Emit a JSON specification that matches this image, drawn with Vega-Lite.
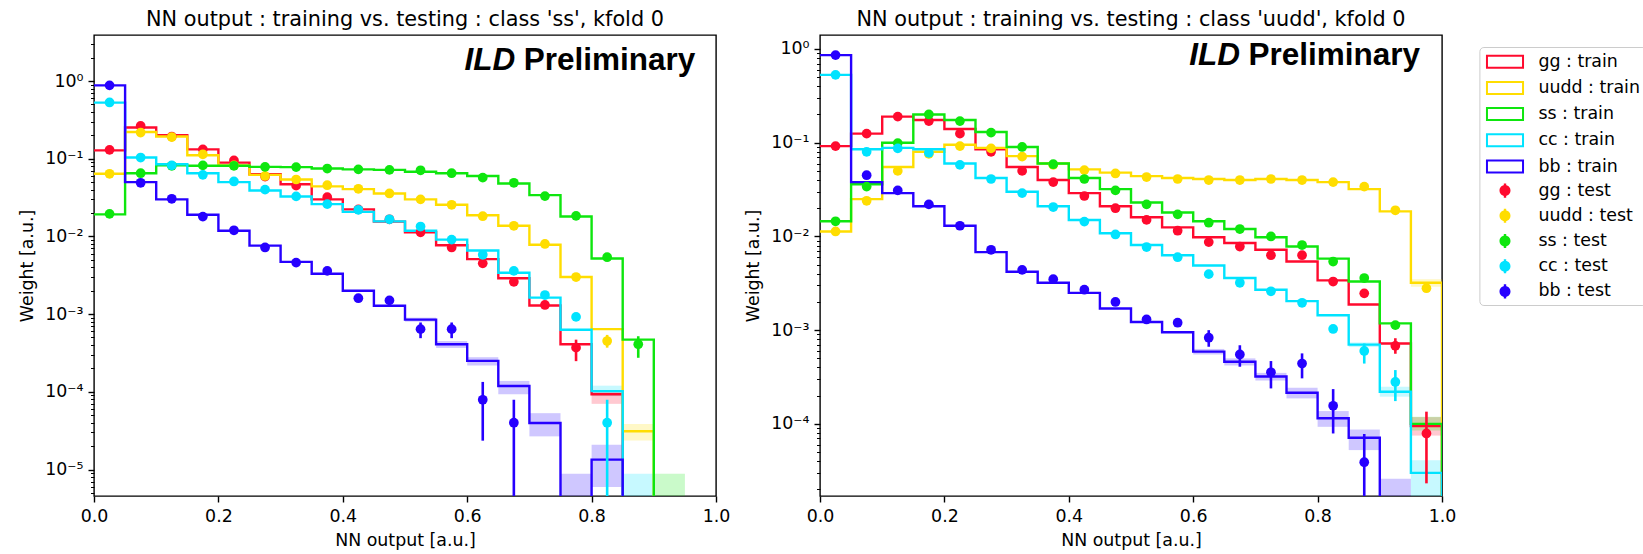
{
  "$schema": "https://vega.github.io/schema/vega-lite/v6.json",
  "background": "white",
  "padding": {"left": 18, "top": 8, "right": 2, "bottom": 2},
  "config": {
    "font": "DejaVu Sans",
    "view": {"stroke": "#000000", "strokeWidth": 1.4},
    "axis": {"grid": false, "domain": false, "tickColor": "#000000", "labelColor": "#000000", "titleColor": "#000000", "labelFontSize": 17.4, "titleFontSize": 17.4, "titleFontWeight": "normal", "tickWidth": 1.4, "labelFont": "DejaVu Sans", "titleFont": "DejaVu Sans"},
    "title": {"font": "DejaVu Sans", "fontSize": 20.8, "fontWeight": "normal", "color": "#000000", "offset": 4, "anchor": "middle"},
    "legend": {"labelFont": "DejaVu Sans", "labelFontSize": 17.4, "labelColor": "#000000", "symbolSize": 200, "labelOffset": 24.7, "symbolOffset": 10.9, "padding": 6, "cornerRadius": 4}
  },
  "datasets": {
    "train": [
      {"p":"ss","l":"gg : train","x":0,"w":0.128},{"p":"ss","l":"gg : train","x":0.05,"w":0.252},{"p":"ss","l":"gg : train","x":0.1,"w":0.2},{"p":"ss","l":"gg : train","x":0.15,"w":0.132},{"p":"ss","l":"gg : train","x":0.2,"w":0.089},{"p":"ss","l":"gg : train","x":0.25,"w":0.063},{"p":"ss","l":"gg : train","x":0.3,"w":0.047},{"p":"ss","l":"gg : train","x":0.35,"w":0.03},{"p":"ss","l":"gg : train","x":0.4,"w":0.0223},{"p":"ss","l":"gg : train","x":0.45,"w":0.0155},{"p":"ss","l":"gg : train","x":0.5,"w":0.0113},{"p":"ss","l":"gg : train","x":0.55,"w":0.0077},{"p":"ss","l":"gg : train","x":0.6,"w":0.0051},{"p":"ss","l":"gg : train","x":0.65,"w":0.0029},{"p":"ss","l":"gg : train","x":0.7,"w":0.00129},{"p":"ss","l":"gg : train","x":0.75,"w":0.00041},{"p":"ss","l":"gg : train","x":0.8,"w":0.000093},{"p":"ss","l":"gg : train","x":0.85,"w":1e-9},{"p":"ss","l":"gg : train","x":0.9,"w":1e-9},{"p":"ss","l":"gg : train","x":0.95,"w":1e-9},{"p":"ss","l":"gg : train","x":1,"w":1e-9},
      {"p":"ss","l":"uudd : train","x":0,"w":0.064},{"p":"ss","l":"uudd : train","x":0.05,"w":0.221},{"p":"ss","l":"uudd : train","x":0.1,"w":0.193},{"p":"ss","l":"uudd : train","x":0.15,"w":0.111},{"p":"ss","l":"uudd : train","x":0.2,"w":0.082},{"p":"ss","l":"uudd : train","x":0.25,"w":0.062},{"p":"ss","l":"uudd : train","x":0.3,"w":0.054},{"p":"ss","l":"uudd : train","x":0.35,"w":0.044},{"p":"ss","l":"uudd : train","x":0.4,"w":0.0406},{"p":"ss","l":"uudd : train","x":0.45,"w":0.0357},{"p":"ss","l":"uudd : train","x":0.5,"w":0.03},{"p":"ss","l":"uudd : train","x":0.55,"w":0.0255},{"p":"ss","l":"uudd : train","x":0.6,"w":0.0187},{"p":"ss","l":"uudd : train","x":0.65,"w":0.0137},{"p":"ss","l":"uudd : train","x":0.7,"w":0.0078},{"p":"ss","l":"uudd : train","x":0.75,"w":0.003},{"p":"ss","l":"uudd : train","x":0.8,"w":0.00064},{"p":"ss","l":"uudd : train","x":0.85,"w":0.000031},{"p":"ss","l":"uudd : train","x":0.9,"w":1e-9},{"p":"ss","l":"uudd : train","x":0.95,"w":1e-9},{"p":"ss","l":"uudd : train","x":1,"w":1e-9},
      {"p":"ss","l":"ss : train","x":0,"w":0.0192},{"p":"ss","l":"ss : train","x":0.05,"w":0.065},{"p":"ss","l":"ss : train","x":0.1,"w":0.082},{"p":"ss","l":"ss : train","x":0.15,"w":0.081},{"p":"ss","l":"ss : train","x":0.2,"w":0.081},{"p":"ss","l":"ss : train","x":0.25,"w":0.0785},{"p":"ss","l":"ss : train","x":0.3,"w":0.078},{"p":"ss","l":"ss : train","x":0.35,"w":0.0747},{"p":"ss","l":"ss : train","x":0.4,"w":0.073},{"p":"ss","l":"ss : train","x":0.45,"w":0.0718},{"p":"ss","l":"ss : train","x":0.5,"w":0.068},{"p":"ss","l":"ss : train","x":0.55,"w":0.065},{"p":"ss","l":"ss : train","x":0.6,"w":0.06},{"p":"ss","l":"ss : train","x":0.65,"w":0.048},{"p":"ss","l":"ss : train","x":0.7,"w":0.034},{"p":"ss","l":"ss : train","x":0.75,"w":0.018},{"p":"ss","l":"ss : train","x":0.8,"w":0.0052},{"p":"ss","l":"ss : train","x":0.85,"w":0.00047},{"p":"ss","l":"ss : train","x":0.9,"w":1e-9},{"p":"ss","l":"ss : train","x":0.95,"w":1e-9},{"p":"ss","l":"ss : train","x":1,"w":1e-9},
      {"p":"ss","l":"cc : train","x":0,"w":0.527},{"p":"ss","l":"cc : train","x":0.05,"w":0.1036},{"p":"ss","l":"cc : train","x":0.1,"w":0.085},{"p":"ss","l":"cc : train","x":0.15,"w":0.065},{"p":"ss","l":"cc : train","x":0.2,"w":0.05},{"p":"ss","l":"cc : train","x":0.25,"w":0.039},{"p":"ss","l":"cc : train","x":0.3,"w":0.0327},{"p":"ss","l":"cc : train","x":0.35,"w":0.026},{"p":"ss","l":"cc : train","x":0.4,"w":0.0207},{"p":"ss","l":"cc : train","x":0.45,"w":0.0156},{"p":"ss","l":"cc : train","x":0.5,"w":0.0118},{"p":"ss","l":"cc : train","x":0.55,"w":0.0091},{"p":"ss","l":"cc : train","x":0.6,"w":0.0066},{"p":"ss","l":"cc : train","x":0.65,"w":0.0034},{"p":"ss","l":"cc : train","x":0.7,"w":0.00163},{"p":"ss","l":"cc : train","x":0.75,"w":0.00063},{"p":"ss","l":"cc : train","x":0.8,"w":0.000102},{"p":"ss","l":"cc : train","x":0.85,"w":1e-9},{"p":"ss","l":"cc : train","x":0.9,"w":1e-9},{"p":"ss","l":"cc : train","x":0.95,"w":1e-9},{"p":"ss","l":"cc : train","x":1,"w":1e-9},
      {"p":"ss","l":"bb : train","x":0,"w":0.88},{"p":"ss","l":"bb : train","x":0.05,"w":0.05},{"p":"ss","l":"bb : train","x":0.1,"w":0.03},{"p":"ss","l":"bb : train","x":0.15,"w":0.019},{"p":"ss","l":"bb : train","x":0.2,"w":0.0118},{"p":"ss","l":"bb : train","x":0.25,"w":0.0076},{"p":"ss","l":"bb : train","x":0.3,"w":0.0047},{"p":"ss","l":"bb : train","x":0.35,"w":0.0033},{"p":"ss","l":"bb : train","x":0.4,"w":0.002},{"p":"ss","l":"bb : train","x":0.45,"w":0.00128},{"p":"ss","l":"bb : train","x":0.5,"w":0.00085},{"p":"ss","l":"bb : train","x":0.55,"w":0.00041},{"p":"ss","l":"bb : train","x":0.6,"w":0.00025},{"p":"ss","l":"bb : train","x":0.65,"w":0.000119},{"p":"ss","l":"bb : train","x":0.7,"w":0.0000396},{"p":"ss","l":"bb : train","x":0.75,"w":1e-9},{"p":"ss","l":"bb : train","x":0.8,"w":0.0000134},{"p":"ss","l":"bb : train","x":0.85,"w":1e-9},{"p":"ss","l":"bb : train","x":0.9,"w":1e-9},{"p":"ss","l":"bb : train","x":0.95,"w":1e-9},{"p":"ss","l":"bb : train","x":1,"w":1e-9},
      {"p":"uudd","l":"gg : train","x":0,"w":0.092},{"p":"uudd","l":"gg : train","x":0.05,"w":0.125},{"p":"uudd","l":"gg : train","x":0.1,"w":0.19},{"p":"uudd","l":"gg : train","x":0.15,"w":0.175},{"p":"uudd","l":"gg : train","x":0.2,"w":0.14},{"p":"uudd","l":"gg : train","x":0.25,"w":0.085},{"p":"uudd","l":"gg : train","x":0.3,"w":0.055},{"p":"uudd","l":"gg : train","x":0.35,"w":0.04},{"p":"uudd","l":"gg : train","x":0.4,"w":0.029},{"p":"uudd","l":"gg : train","x":0.45,"w":0.021},{"p":"uudd","l":"gg : train","x":0.5,"w":0.016},{"p":"uudd","l":"gg : train","x":0.55,"w":0.0125},{"p":"uudd","l":"gg : train","x":0.6,"w":0.0098},{"p":"uudd","l":"gg : train","x":0.65,"w":0.0085},{"p":"uudd","l":"gg : train","x":0.7,"w":0.0072},{"p":"uudd","l":"gg : train","x":0.75,"w":0.0054},{"p":"uudd","l":"gg : train","x":0.8,"w":0.0034},{"p":"uudd","l":"gg : train","x":0.85,"w":0.00188},{"p":"uudd","l":"gg : train","x":0.9,"w":0.00072},{"p":"uudd","l":"gg : train","x":0.95,"w":0.000095},{"p":"uudd","l":"gg : train","x":1,"w":1e-9},
      {"p":"uudd","l":"uudd : train","x":0,"w":0.0113},{"p":"uudd","l":"uudd : train","x":0.05,"w":0.025},{"p":"uudd","l":"uudd : train","x":0.1,"w":0.055},{"p":"uudd","l":"uudd : train","x":0.15,"w":0.08},{"p":"uudd","l":"uudd : train","x":0.2,"w":0.095},{"p":"uudd","l":"uudd : train","x":0.25,"w":0.088},{"p":"uudd","l":"uudd : train","x":0.3,"w":0.072},{"p":"uudd","l":"uudd : train","x":0.35,"w":0.06},{"p":"uudd","l":"uudd : train","x":0.4,"w":0.052},{"p":"uudd","l":"uudd : train","x":0.45,"w":0.048},{"p":"uudd","l":"uudd : train","x":0.5,"w":0.044},{"p":"uudd","l":"uudd : train","x":0.55,"w":0.042},{"p":"uudd","l":"uudd : train","x":0.6,"w":0.041},{"p":"uudd","l":"uudd : train","x":0.65,"w":0.04},{"p":"uudd","l":"uudd : train","x":0.7,"w":0.041},{"p":"uudd","l":"uudd : train","x":0.75,"w":0.04},{"p":"uudd","l":"uudd : train","x":0.8,"w":0.038},{"p":"uudd","l":"uudd : train","x":0.85,"w":0.032},{"p":"uudd","l":"uudd : train","x":0.9,"w":0.0185},{"p":"uudd","l":"uudd : train","x":0.95,"w":0.0032},{"p":"uudd","l":"uudd : train","x":1,"w":1e-9},
      {"p":"uudd","l":"ss : train","x":0,"w":0.0145},{"p":"uudd","l":"ss : train","x":0.05,"w":0.036},{"p":"uudd","l":"ss : train","x":0.1,"w":0.1},{"p":"uudd","l":"ss : train","x":0.15,"w":0.2},{"p":"uudd","l":"ss : train","x":0.2,"w":0.175},{"p":"uudd","l":"ss : train","x":0.25,"w":0.13},{"p":"uudd","l":"ss : train","x":0.3,"w":0.09},{"p":"uudd","l":"ss : train","x":0.35,"w":0.06},{"p":"uudd","l":"ss : train","x":0.4,"w":0.042},{"p":"uudd","l":"ss : train","x":0.45,"w":0.032},{"p":"uudd","l":"ss : train","x":0.5,"w":0.023},{"p":"uudd","l":"ss : train","x":0.55,"w":0.018},{"p":"uudd","l":"ss : train","x":0.6,"w":0.0145},{"p":"uudd","l":"ss : train","x":0.65,"w":0.012},{"p":"uudd","l":"ss : train","x":0.7,"w":0.0098},{"p":"uudd","l":"ss : train","x":0.75,"w":0.0078},{"p":"uudd","l":"ss : train","x":0.8,"w":0.0058},{"p":"uudd","l":"ss : train","x":0.85,"w":0.0033},{"p":"uudd","l":"ss : train","x":0.9,"w":0.00118},{"p":"uudd","l":"ss : train","x":0.95,"w":0.0001},{"p":"uudd","l":"ss : train","x":1,"w":1e-9},
      {"p":"uudd","l":"cc : train","x":0,"w":0.53},{"p":"uudd","l":"cc : train","x":0.05,"w":0.085},{"p":"uudd","l":"cc : train","x":0.1,"w":0.088},{"p":"uudd","l":"cc : train","x":0.15,"w":0.085},{"p":"uudd","l":"cc : train","x":0.2,"w":0.06},{"p":"uudd","l":"cc : train","x":0.25,"w":0.042},{"p":"uudd","l":"cc : train","x":0.3,"w":0.03},{"p":"uudd","l":"cc : train","x":0.35,"w":0.021},{"p":"uudd","l":"cc : train","x":0.4,"w":0.015},{"p":"uudd","l":"cc : train","x":0.45,"w":0.0108},{"p":"uudd","l":"cc : train","x":0.5,"w":0.0081},{"p":"uudd","l":"cc : train","x":0.55,"w":0.0063},{"p":"uudd","l":"cc : train","x":0.6,"w":0.0049},{"p":"uudd","l":"cc : train","x":0.65,"w":0.0036},{"p":"uudd","l":"cc : train","x":0.7,"w":0.0027},{"p":"uudd","l":"cc : train","x":0.75,"w":0.00204},{"p":"uudd","l":"cc : train","x":0.8,"w":0.00144},{"p":"uudd","l":"cc : train","x":0.85,"w":0.0007},{"p":"uudd","l":"cc : train","x":0.9,"w":0.00022},{"p":"uudd","l":"cc : train","x":0.95,"w":0.00003},{"p":"uudd","l":"cc : train","x":1,"w":1e-9},
      {"p":"uudd","l":"bb : train","x":0,"w":0.86},{"p":"uudd","l":"bb : train","x":0.05,"w":0.038},{"p":"uudd","l":"bb : train","x":0.1,"w":0.029},{"p":"uudd","l":"bb : train","x":0.15,"w":0.021},{"p":"uudd","l":"bb : train","x":0.2,"w":0.013},{"p":"uudd","l":"bb : train","x":0.25,"w":0.0068},{"p":"uudd","l":"bb : train","x":0.3,"w":0.0042},{"p":"uudd","l":"bb : train","x":0.35,"w":0.0032},{"p":"uudd","l":"bb : train","x":0.4,"w":0.0025},{"p":"uudd","l":"bb : train","x":0.45,"w":0.0017},{"p":"uudd","l":"bb : train","x":0.5,"w":0.00122},{"p":"uudd","l":"bb : train","x":0.55,"w":0.00095},{"p":"uudd","l":"bb : train","x":0.6,"w":0.00059},{"p":"uudd","l":"bb : train","x":0.65,"w":0.00046},{"p":"uudd","l":"bb : train","x":0.7,"w":0.00032},{"p":"uudd","l":"bb : train","x":0.75,"w":0.000215},{"p":"uudd","l":"bb : train","x":0.8,"w":0.000115},{"p":"uudd","l":"bb : train","x":0.85,"w":0.000071},{"p":"uudd","l":"bb : train","x":0.9,"w":1e-9},{"p":"uudd","l":"bb : train","x":0.95,"w":1e-9},{"p":"uudd","l":"bb : train","x":1,"w":1e-9}
    ],
    "test": [
      {"p":"ss","l":"gg : test","x":0.025,"w":0.13},{"p":"ss","l":"gg : test","x":0.075,"w":0.264},{"p":"ss","l":"gg : test","x":0.125,"w":0.193},{"p":"ss","l":"gg : test","x":0.175,"w":0.132},{"p":"ss","l":"gg : test","x":0.225,"w":0.095},{"p":"ss","l":"gg : test","x":0.275,"w":0.059},{"p":"ss","l":"gg : test","x":0.325,"w":0.045},{"p":"ss","l":"gg : test","x":0.375,"w":0.032},{"p":"ss","l":"gg : test","x":0.425,"w":0.0223},{"p":"ss","l":"gg : test","x":0.475,"w":0.0166},{"p":"ss","l":"gg : test","x":0.525,"w":0.0113},{"p":"ss","l":"gg : test","x":0.575,"w":0.0072},{"p":"ss","l":"gg : test","x":0.625,"w":0.0045},{"p":"ss","l":"gg : test","x":0.675,"w":0.0026},{"p":"ss","l":"gg : test","x":0.725,"w":0.00131},{"p":"ss","l":"gg : test","x":0.775,"w":0.00037,"lo":0.000248,"hi":0.000469},
      {"p":"ss","l":"uudd : test","x":0.025,"w":0.064},{"p":"ss","l":"uudd : test","x":0.075,"w":0.217},{"p":"ss","l":"uudd : test","x":0.125,"w":0.19},{"p":"ss","l":"uudd : test","x":0.175,"w":0.114},{"p":"ss","l":"uudd : test","x":0.225,"w":0.082},{"p":"ss","l":"uudd : test","x":0.275,"w":0.06},{"p":"ss","l":"uudd : test","x":0.325,"w":0.054},{"p":"ss","l":"uudd : test","x":0.375,"w":0.0456},{"p":"ss","l":"uudd : test","x":0.425,"w":0.041},{"p":"ss","l":"uudd : test","x":0.475,"w":0.0357},{"p":"ss","l":"uudd : test","x":0.525,"w":0.03},{"p":"ss","l":"uudd : test","x":0.575,"w":0.0255},{"p":"ss","l":"uudd : test","x":0.625,"w":0.0182},{"p":"ss","l":"uudd : test","x":0.675,"w":0.0137},{"p":"ss","l":"uudd : test","x":0.725,"w":0.008},{"p":"ss","l":"uudd : test","x":0.775,"w":0.003},{"p":"ss","l":"uudd : test","x":0.825,"w":0.00045,"lo":0.00037,"hi":0.00054},
      {"p":"ss","l":"ss : test","x":0.025,"w":0.0195},{"p":"ss","l":"ss : test","x":0.075,"w":0.065},{"p":"ss","l":"ss : test","x":0.125,"w":0.081},{"p":"ss","l":"ss : test","x":0.175,"w":0.082},{"p":"ss","l":"ss : test","x":0.225,"w":0.081},{"p":"ss","l":"ss : test","x":0.275,"w":0.0785},{"p":"ss","l":"ss : test","x":0.325,"w":0.078},{"p":"ss","l":"ss : test","x":0.375,"w":0.0747},{"p":"ss","l":"ss : test","x":0.425,"w":0.073},{"p":"ss","l":"ss : test","x":0.475,"w":0.0718},{"p":"ss","l":"ss : test","x":0.525,"w":0.071},{"p":"ss","l":"ss : test","x":0.575,"w":0.065},{"p":"ss","l":"ss : test","x":0.625,"w":0.057},{"p":"ss","l":"ss : test","x":0.675,"w":0.049},{"p":"ss","l":"ss : test","x":0.725,"w":0.033},{"p":"ss","l":"ss : test","x":0.775,"w":0.0184},{"p":"ss","l":"ss : test","x":0.825,"w":0.0054},{"p":"ss","l":"ss : test","x":0.875,"w":0.00041,"lo":0.000274,"hi":0.000519},
      {"p":"ss","l":"cc : test","x":0.025,"w":0.53},{"p":"ss","l":"cc : test","x":0.075,"w":0.1036},{"p":"ss","l":"cc : test","x":0.125,"w":0.082},{"p":"ss","l":"cc : test","x":0.175,"w":0.062},{"p":"ss","l":"cc : test","x":0.225,"w":0.051},{"p":"ss","l":"cc : test","x":0.275,"w":0.04},{"p":"ss","l":"cc : test","x":0.325,"w":0.0327},{"p":"ss","l":"cc : test","x":0.375,"w":0.026},{"p":"ss","l":"cc : test","x":0.425,"w":0.022},{"p":"ss","l":"cc : test","x":0.475,"w":0.0166},{"p":"ss","l":"cc : test","x":0.525,"w":0.0134},{"p":"ss","l":"cc : test","x":0.575,"w":0.0091},{"p":"ss","l":"cc : test","x":0.625,"w":0.0058},{"p":"ss","l":"cc : test","x":0.675,"w":0.0036},{"p":"ss","l":"cc : test","x":0.725,"w":0.00176},{"p":"ss","l":"cc : test","x":0.775,"w":0.00092},{"p":"ss","l":"cc : test","x":0.825,"w":0.00004,"lo":1e-9,"hi":0.000079},
      {"p":"ss","l":"bb : test","x":0.025,"w":0.88},{"p":"ss","l":"bb : test","x":0.075,"w":0.049},{"p":"ss","l":"bb : test","x":0.125,"w":0.0305},{"p":"ss","l":"bb : test","x":0.175,"w":0.018},{"p":"ss","l":"bb : test","x":0.225,"w":0.012},{"p":"ss","l":"bb : test","x":0.275,"w":0.0072},{"p":"ss","l":"bb : test","x":0.325,"w":0.0046},{"p":"ss","l":"bb : test","x":0.375,"w":0.0036},{"p":"ss","l":"bb : test","x":0.425,"w":0.0016},{"p":"ss","l":"bb : test","x":0.475,"w":0.0015},{"p":"ss","l":"bb : test","x":0.525,"w":0.00064,"lo":0.00049,"hi":0.00078},{"p":"ss","l":"bb : test","x":0.575,"w":0.00064,"lo":0.00049,"hi":0.00078},{"p":"ss","l":"bb : test","x":0.625,"w":0.000079,"lo":0.0000235,"hi":0.000134},{"p":"ss","l":"bb : test","x":0.675,"w":0.00004,"lo":1e-9,"hi":0.000079},
      {"p":"uudd","l":"gg : test","x":0.025,"w":0.092},{"p":"uudd","l":"gg : test","x":0.075,"w":0.125},{"p":"uudd","l":"gg : test","x":0.125,"w":0.19},{"p":"uudd","l":"gg : test","x":0.175,"w":0.17},{"p":"uudd","l":"gg : test","x":0.225,"w":0.125},{"p":"uudd","l":"gg : test","x":0.275,"w":0.08},{"p":"uudd","l":"gg : test","x":0.325,"w":0.05},{"p":"uudd","l":"gg : test","x":0.375,"w":0.038},{"p":"uudd","l":"gg : test","x":0.425,"w":0.027},{"p":"uudd","l":"gg : test","x":0.475,"w":0.02},{"p":"uudd","l":"gg : test","x":0.525,"w":0.015},{"p":"uudd","l":"gg : test","x":0.575,"w":0.0115},{"p":"uudd","l":"gg : test","x":0.625,"w":0.0087},{"p":"uudd","l":"gg : test","x":0.675,"w":0.0078},{"p":"uudd","l":"gg : test","x":0.725,"w":0.0063},{"p":"uudd","l":"gg : test","x":0.775,"w":0.0063},{"p":"uudd","l":"gg : test","x":0.825,"w":0.0033},{"p":"uudd","l":"gg : test","x":0.875,"w":0.00247},{"p":"uudd","l":"gg : test","x":0.925,"w":0.00068,"lo":0.00056,"hi":0.00082},{"p":"uudd","l":"gg : test","x":0.975,"w":0.000079,"lo":0.0000232,"hi":0.000135},
      {"p":"uudd","l":"uudd : test","x":0.025,"w":0.0113},{"p":"uudd","l":"uudd : test","x":0.075,"w":0.024},{"p":"uudd","l":"uudd : test","x":0.125,"w":0.05},{"p":"uudd","l":"uudd : test","x":0.175,"w":0.076},{"p":"uudd","l":"uudd : test","x":0.225,"w":0.092},{"p":"uudd","l":"uudd : test","x":0.275,"w":0.087},{"p":"uudd","l":"uudd : test","x":0.325,"w":0.071},{"p":"uudd","l":"uudd : test","x":0.375,"w":0.058},{"p":"uudd","l":"uudd : test","x":0.425,"w":0.051},{"p":"uudd","l":"uudd : test","x":0.475,"w":0.047},{"p":"uudd","l":"uudd : test","x":0.525,"w":0.043},{"p":"uudd","l":"uudd : test","x":0.575,"w":0.041},{"p":"uudd","l":"uudd : test","x":0.625,"w":0.04},{"p":"uudd","l":"uudd : test","x":0.675,"w":0.04},{"p":"uudd","l":"uudd : test","x":0.725,"w":0.041},{"p":"uudd","l":"uudd : test","x":0.775,"w":0.04},{"p":"uudd","l":"uudd : test","x":0.825,"w":0.038},{"p":"uudd","l":"uudd : test","x":0.875,"w":0.034},{"p":"uudd","l":"uudd : test","x":0.925,"w":0.019},{"p":"uudd","l":"uudd : test","x":0.975,"w":0.0028},
      {"p":"uudd","l":"ss : test","x":0.025,"w":0.0145},{"p":"uudd","l":"ss : test","x":0.075,"w":0.034},{"p":"uudd","l":"ss : test","x":0.125,"w":0.099},{"p":"uudd","l":"ss : test","x":0.175,"w":0.2},{"p":"uudd","l":"ss : test","x":0.225,"w":0.17},{"p":"uudd","l":"ss : test","x":0.275,"w":0.128},{"p":"uudd","l":"ss : test","x":0.325,"w":0.09},{"p":"uudd","l":"ss : test","x":0.375,"w":0.059},{"p":"uudd","l":"ss : test","x":0.425,"w":0.041},{"p":"uudd","l":"ss : test","x":0.475,"w":0.031},{"p":"uudd","l":"ss : test","x":0.525,"w":0.022},{"p":"uudd","l":"ss : test","x":0.575,"w":0.0172},{"p":"uudd","l":"ss : test","x":0.625,"w":0.014},{"p":"uudd","l":"ss : test","x":0.675,"w":0.012},{"p":"uudd","l":"ss : test","x":0.725,"w":0.01},{"p":"uudd","l":"ss : test","x":0.775,"w":0.0081},{"p":"uudd","l":"ss : test","x":0.825,"w":0.0054},{"p":"uudd","l":"ss : test","x":0.875,"w":0.0036},{"p":"uudd","l":"ss : test","x":0.925,"w":0.00113},
      {"p":"uudd","l":"cc : test","x":0.025,"w":0.53},{"p":"uudd","l":"cc : test","x":0.075,"w":0.08},{"p":"uudd","l":"cc : test","x":0.125,"w":0.087},{"p":"uudd","l":"cc : test","x":0.175,"w":0.078},{"p":"uudd","l":"cc : test","x":0.225,"w":0.058},{"p":"uudd","l":"cc : test","x":0.275,"w":0.041},{"p":"uudd","l":"cc : test","x":0.325,"w":0.029},{"p":"uudd","l":"cc : test","x":0.375,"w":0.0206},{"p":"uudd","l":"cc : test","x":0.425,"w":0.0144},{"p":"uudd","l":"cc : test","x":0.475,"w":0.0105},{"p":"uudd","l":"cc : test","x":0.525,"w":0.0077},{"p":"uudd","l":"cc : test","x":0.575,"w":0.006},{"p":"uudd","l":"cc : test","x":0.625,"w":0.00396},{"p":"uudd","l":"cc : test","x":0.675,"w":0.0032},{"p":"uudd","l":"cc : test","x":0.725,"w":0.0026},{"p":"uudd","l":"cc : test","x":0.775,"w":0.00196},{"p":"uudd","l":"cc : test","x":0.825,"w":0.00103},{"p":"uudd","l":"cc : test","x":0.875,"w":0.0006,"lo":0.00044,"hi":0.00072},{"p":"uudd","l":"cc : test","x":0.925,"w":0.00028,"lo":0.000175,"hi":0.000375},
      {"p":"uudd","l":"bb : test","x":0.025,"w":0.86},{"p":"uudd","l":"bb : test","x":0.075,"w":0.045},{"p":"uudd","l":"bb : test","x":0.125,"w":0.031},{"p":"uudd","l":"bb : test","x":0.175,"w":0.022},{"p":"uudd","l":"bb : test","x":0.225,"w":0.013},{"p":"uudd","l":"bb : test","x":0.275,"w":0.0072},{"p":"uudd","l":"bb : test","x":0.325,"w":0.0044},{"p":"uudd","l":"bb : test","x":0.375,"w":0.0035},{"p":"uudd","l":"bb : test","x":0.425,"w":0.0027},{"p":"uudd","l":"bb : test","x":0.475,"w":0.002},{"p":"uudd","l":"bb : test","x":0.525,"w":0.0013},{"p":"uudd","l":"bb : test","x":0.575,"w":0.0012},{"p":"uudd","l":"bb : test","x":0.625,"w":0.00083,"lo":0.000665,"hi":0.001},{"p":"uudd","l":"bb : test","x":0.675,"w":0.00055,"lo":0.000407,"hi":0.00069},{"p":"uudd","l":"bb : test","x":0.725,"w":0.000355,"lo":0.000239,"hi":0.000468},{"p":"uudd","l":"bb : test","x":0.775,"w":0.00044,"lo":0.000306,"hi":0.000565},{"p":"uudd","l":"bb : test","x":0.825,"w":0.000156,"lo":0.000079,"hi":0.000235},{"p":"uudd","l":"bb : test","x":0.875,"w":0.000039,"lo":1e-9,"hi":0.000078}
    ],
    "band": [
      {"p":"ss","l":"bb : train","a":0.5,"b":0.55,"lo":0.0008,"hi":0.0009},
      {"p":"ss","l":"bb : train","a":0.55,"b":0.6,"lo":0.000367,"hi":0.00045},
      {"p":"ss","l":"bb : train","a":0.6,"b":0.65,"lo":0.000218,"hi":0.000279},
      {"p":"ss","l":"bb : train","a":0.65,"b":0.7,"lo":0.000093,"hi":0.000138},
      {"p":"ss","l":"bb : train","a":0.7,"b":0.75,"lo":0.0000267,"hi":0.0000531},
      {"p":"ss","l":"bb : train","a":0.75,"b":0.8,"lo":1e-9,"hi":0.0000088},
      {"p":"ss","l":"bb : train","a":0.8,"b":0.85,"lo":0.00000596,"hi":0.0000209},
      {"p":"ss","l":"cc : train","a":0.8,"b":0.85,"lo":0.000088,"hi":0.00012},
      {"p":"ss","l":"cc : train","a":0.85,"b":0.9,"lo":1e-9,"hi":0.0000088},
      {"p":"ss","l":"gg : train","a":0.8,"b":0.85,"lo":0.00007,"hi":0.0001},
      {"p":"ss","l":"uudd : train","a":0.85,"b":0.9,"lo":0.0000236,"hi":0.0000385},
      {"p":"ss","l":"ss : train","a":0.9,"b":0.95,"lo":1e-9,"hi":0.0000088},
      {"p":"uudd","l":"bb : train","a":0.6,"b":0.65,"lo":0.00055,"hi":0.00063},
      {"p":"uudd","l":"bb : train","a":0.65,"b":0.7,"lo":0.00042,"hi":0.0005},
      {"p":"uudd","l":"bb : train","a":0.7,"b":0.75,"lo":0.00029,"hi":0.00035},
      {"p":"uudd","l":"bb : train","a":0.75,"b":0.8,"lo":0.000187,"hi":0.000243},
      {"p":"uudd","l":"bb : train","a":0.8,"b":0.85,"lo":0.000093,"hi":0.000137},
      {"p":"uudd","l":"bb : train","a":0.85,"b":0.9,"lo":0.0000525,"hi":0.000087},
      {"p":"uudd","l":"bb : train","a":0.9,"b":0.95,"lo":1e-9,"hi":0.000026},
      {"p":"uudd","l":"cc : train","a":0.85,"b":0.9,"lo":0.00066,"hi":0.00074},
      {"p":"uudd","l":"cc : train","a":0.9,"b":0.95,"lo":0.000195,"hi":0.000249},
      {"p":"uudd","l":"cc : train","a":0.95,"b":1,"lo":1e-9,"hi":0.000041},
      {"p":"uudd","l":"gg : train","a":0.95,"b":1,"lo":0.000075,"hi":0.000118},
      {"p":"uudd","l":"ss : train","a":0.95,"b":1,"lo":0.000085,"hi":0.000119},
      {"p":"uudd","l":"uudd : train","a":0.95,"b":1,"lo":0.0029,"hi":0.0035}
    ]
  },
  "hconcat": [
    {
      "width": 622,
      "height": 461,
      "title": "NN output : training vs. testing : class 'ss', kfold 0",
      "layer": [
        {
          "data": {"name": "band"},
          "transform": [{"filter": "datum.p == 'ss'"}],
          "mark": {"type": "rect", "opacity": 0.22, "clip": true},
          "encoding": {
            "x": {"field": "a", "type": "quantitative", "scale": {"domain": [0, 1], "nice": false, "zero": false}, "axis": {"title": "NN output [a.u.]", "values": [0, 0.2, 0.4, 0.6, 0.8, 1], "format": ".1f", "tickSize": 6, "labelPadding": 5, "titlePadding": 7, "labelFlush": false}},
            "x2": {"field": "b"},
            "y": {"field": "lo", "type": "quantitative", "scale": {"type": "log", "domain": [0.00000456, 3.91], "nice": false}, "axis": {"orient": "left", "title": null, "labels": false, "tickSize": 3.5, "tickWidth": 1, "values": [0.000005, 0.000006, 0.000007, 0.000008, 0.000009, 0.00002, 0.00003, 0.00004, 0.00005, 0.00006, 0.00007, 0.00008, 0.00009, 0.0002, 0.0003, 0.0004, 0.0005, 0.0006, 0.0007, 0.0008, 0.0009, 0.002, 0.003, 0.004, 0.005, 0.006, 0.007, 0.008, 0.009, 0.02, 0.03, 0.04, 0.05, 0.06, 0.07, 0.08, 0.09, 0.2, 0.3, 0.4, 0.5, 0.6, 0.7, 0.8, 0.9, 2, 3]}},
            "y2": {"field": "hi"},
            "color": {"field": "l", "type": "nominal", "sort": null, "legend": null, "scale": {"domain": ["gg : train", "uudd : train", "ss : train", "cc : train", "bb : train", "gg : test", "uudd : test", "ss : test", "cc : test", "bb : test"], "range": ["#ff0a2e", "#ffdd00", "#0ee60e", "#00e3ff", "#2600ff", "#ff0a2e", "#ffdd00", "#0ee60e", "#00e3ff", "#2600ff"]}}
          }
        },
        {
          "layer": [
            {
              "data": {"name": "train"},
              "transform": [{"filter": "datum.p == 'ss'"}],
              "mark": {"type": "line", "interpolate": "step-after", "strokeWidth": 2.4, "clip": true},
              "encoding": {
                "x": {"field": "x", "type": "quantitative", "scale": {"domain": [0, 1], "nice": false, "zero": false}},
                "y": {"field": "w", "type": "quantitative", "scale": {"type": "log", "domain": [0.00000456, 3.91], "nice": false}, "axis": {"orient": "left", "title": "Weight [a.u.]", "values": [0.00001, 0.0001, 0.001, 0.01, 0.1, 1], "labelExpr": "'10' + (datum.value > 0.5 ? '⁰' : datum.value > 0.05 ? '⁻¹' : datum.value > 0.005 ? '⁻²' : datum.value > 0.0005 ? '⁻³' : datum.value > 0.00005 ? '⁻⁴' : '⁻⁵')", "tickSize": 6, "labelPadding": 5, "titlePadding": 8}},
                "stroke": {"field": "l", "type": "nominal", "sort": null, "scale": {"domain": ["gg : train", "uudd : train", "ss : train", "cc : train", "bb : train"], "range": ["#ff0a2e", "#ffdd00", "#0ee60e", "#00e3ff", "#2600ff"]}, "legend": {"title": "\u00a0", "titleOrient": "bottom", "titleFontSize": 118.5, "titlePadding": 4, "orient": "none", "legendX": 1385.4, "legendY": 12, "rowPadding": 5.2, "symbolType": "M-2.55,-0.85H2.55V0.85H-2.55Z", "symbolFillColor": "#ffffff", "symbolStrokeWidth": 2, "symbolOpacity": 1, "strokeColor": "#cccccc", "fillColor": "transparent", "zindex": 1}}
              }
            },
            {
              "data": {"name": "test"},
              "transform": [{"filter": "datum.p == 'ss' && isValid(datum.lo)"}],
              "mark": {"type": "rule", "strokeWidth": 2.6, "clip": true},
              "encoding": {
                "x": {"field": "x", "type": "quantitative", "scale": {"domain": [0, 1], "nice": false, "zero": false}},
                "y": {"field": "lo", "type": "quantitative", "scale": {"type": "log", "domain": [0.00000456, 3.91], "nice": false}},
                "y2": {"field": "hi"},
                "color": {"field": "l", "type": "nominal", "sort": null, "legend": null}
              }
            },
            {
              "data": {"name": "test"},
              "transform": [{"filter": "datum.p == 'ss'"}],
              "mark": {"type": "point", "filled": true, "opacity": 1, "size": 95, "shape": "circle", "clip": true},
              "encoding": {
                "x": {"field": "x", "type": "quantitative", "scale": {"domain": [0, 1], "nice": false, "zero": false}},
                "y": {"field": "w", "type": "quantitative", "scale": {"type": "log", "domain": [0.00000456, 3.91], "nice": false}},
                "fill": {"field": "l", "type": "nominal", "sort": null, "scale": {"domain": ["gg : test", "uudd : test", "ss : test", "cc : test", "bb : test"], "range": ["#ff0a2e", "#ffdd00", "#0ee60e", "#00e3ff", "#2600ff"]}, "legend": {"title": null, "orient": "none", "legendX": 1385.4, "legendY": 140.9, "rowPadding": 6.2, "symbolType": "M-0.78,0A0.78,0.78 0 1,1 0.78,0A0.78,0.78 0 1,1 -0.78,0ZM-0.17,-1H0.17V1H-0.17Z", "symbolStrokeWidth": 0, "symbolOpacity": 1, "strokeColor": "transparent", "fillColor": "transparent", "zindex": 2}}
              }
            },
            {
              "data": {"values": [{"t": "Preliminary"}]},
              "mark": {"type": "text", "font": "Liberation Sans", "fontSize": 31.5, "fontWeight": "bold", "align": "right", "baseline": "alphabetic", "color": "#000000"},
              "encoding": {
                "x": {"datum": 0.9666, "type": "quantitative", "scale": {"domain": [0, 1], "nice": false, "zero": false}},
                "y": {"datum": 1.4, "type": "quantitative", "scale": {"type": "log", "domain": [0.00000456, 3.91], "nice": false}},
                "text": {"field": "t"}
              }
            },
            {
              "data": {"values": [{"t": "ILD"}]},
              "mark": {"type": "text", "font": "Liberation Sans", "fontSize": 31.5, "fontWeight": "bold", "fontStyle": "italic", "align": "right", "baseline": "alphabetic", "dx": -180, "color": "#000000"},
              "encoding": {
                "x": {"datum": 0.9666, "type": "quantitative", "scale": {"domain": [0, 1], "nice": false, "zero": false}},
                "y": {"datum": 1.4, "type": "quantitative", "scale": {"type": "log", "domain": [0.00000456, 3.91], "nice": false}},
                "text": {"field": "t"}
              }
            }
          ]
        }
      ],
      "resolve": {"axis": {"y": "independent"}}
    },
    {
      "width": 622,
      "height": 461,
      "title": "NN output : training vs. testing : class 'uudd', kfold 0",
      "layer": [
        {
          "data": {"name": "band"},
          "transform": [{"filter": "datum.p == 'uudd'"}],
          "mark": {"type": "rect", "opacity": 0.22, "clip": true},
          "encoding": {
            "x": {"field": "a", "type": "quantitative", "scale": {"domain": [0, 1], "nice": false, "zero": false}, "axis": {"title": "NN output [a.u.]", "values": [0, 0.2, 0.4, 0.6, 0.8, 1], "format": ".1f", "tickSize": 6, "labelPadding": 5, "titlePadding": 7, "labelFlush": false}},
            "x2": {"field": "b"},
            "y": {"field": "lo", "type": "quantitative", "scale": {"type": "log", "domain": [0.000017, 1.41], "nice": false}, "axis": {"orient": "left", "title": null, "labels": false, "tickSize": 3.5, "tickWidth": 1, "values": [0.00002, 0.00003, 0.00004, 0.00005, 0.00006, 0.00007, 0.00008, 0.00009, 0.0002, 0.0003, 0.0004, 0.0005, 0.0006, 0.0007, 0.0008, 0.0009, 0.002, 0.003, 0.004, 0.005, 0.006, 0.007, 0.008, 0.009, 0.02, 0.03, 0.04, 0.05, 0.06, 0.07, 0.08, 0.09, 0.2, 0.3, 0.4, 0.5, 0.6, 0.7, 0.8, 0.9]}},
            "y2": {"field": "hi"},
            "color": {"field": "l", "type": "nominal", "sort": null, "legend": null}
          }
        },
        {
          "layer": [
            {
              "data": {"name": "train"},
              "transform": [{"filter": "datum.p == 'uudd'"}],
              "mark": {"type": "line", "interpolate": "step-after", "strokeWidth": 2.4, "clip": true},
              "encoding": {
                "x": {"field": "x", "type": "quantitative", "scale": {"domain": [0, 1], "nice": false, "zero": false}},
                "y": {"field": "w", "type": "quantitative", "scale": {"type": "log", "domain": [0.000017, 1.41], "nice": false}, "axis": {"orient": "left", "title": "Weight [a.u.]", "values": [0.0001, 0.001, 0.01, 0.1, 1], "labelExpr": "'10' + (datum.value > 0.5 ? '⁰' : datum.value > 0.05 ? '⁻¹' : datum.value > 0.005 ? '⁻²' : datum.value > 0.0005 ? '⁻³' : datum.value > 0.00005 ? '⁻⁴' : '⁻⁵')", "tickSize": 6, "labelPadding": 5, "titlePadding": 8}},
                "stroke": {"field": "l", "type": "nominal", "sort": null}
              }
            },
            {
              "data": {"name": "test"},
              "transform": [{"filter": "datum.p == 'uudd' && isValid(datum.lo)"}],
              "mark": {"type": "rule", "strokeWidth": 2.6, "clip": true},
              "encoding": {
                "x": {"field": "x", "type": "quantitative", "scale": {"domain": [0, 1], "nice": false, "zero": false}},
                "y": {"field": "lo", "type": "quantitative", "scale": {"type": "log", "domain": [0.000017, 1.41], "nice": false}},
                "y2": {"field": "hi"},
                "color": {"field": "l", "type": "nominal", "sort": null, "legend": null}
              }
            },
            {
              "data": {"name": "test"},
              "transform": [{"filter": "datum.p == 'uudd'"}],
              "mark": {"type": "point", "filled": true, "opacity": 1, "size": 95, "shape": "circle", "clip": true},
              "encoding": {
                "x": {"field": "x", "type": "quantitative", "scale": {"domain": [0, 1], "nice": false, "zero": false}},
                "y": {"field": "w", "type": "quantitative", "scale": {"type": "log", "domain": [0.000017, 1.41], "nice": false}},
                "fill": {"field": "l", "type": "nominal", "sort": null}
              }
            },
            {
              "data": {"values": [{"t": "Preliminary"}]},
              "mark": {"type": "text", "font": "Liberation Sans", "fontSize": 31.5, "fontWeight": "bold", "align": "right", "baseline": "alphabetic", "color": "#000000"},
              "encoding": {
                "x": {"datum": 0.9646, "type": "quantitative", "scale": {"domain": [0, 1], "nice": false, "zero": false}},
                "y": {"datum": 0.67, "type": "quantitative", "scale": {"type": "log", "domain": [0.000017, 1.41], "nice": false}},
                "text": {"field": "t"}
              }
            },
            {
              "data": {"values": [{"t": "ILD"}]},
              "mark": {"type": "text", "font": "Liberation Sans", "fontSize": 31.5, "fontWeight": "bold", "fontStyle": "italic", "align": "right", "baseline": "alphabetic", "dx": -180, "color": "#000000"},
              "encoding": {
                "x": {"datum": 0.9646, "type": "quantitative", "scale": {"domain": [0, 1], "nice": false, "zero": false}},
                "y": {"datum": 0.67, "type": "quantitative", "scale": {"type": "log", "domain": [0.000017, 1.41], "nice": false}},
                "text": {"field": "t"}
              }
            }
          ]
        }
      ],
      "resolve": {"axis": {"y": "independent"}}
    }
  ],
  "spacing": 104,
  "bounds": "flush",
  "resolve": {"scale": {"color": "shared", "stroke": "shared", "fill": "shared"}, "legend": {"stroke": "shared", "fill": "shared"}}
}
